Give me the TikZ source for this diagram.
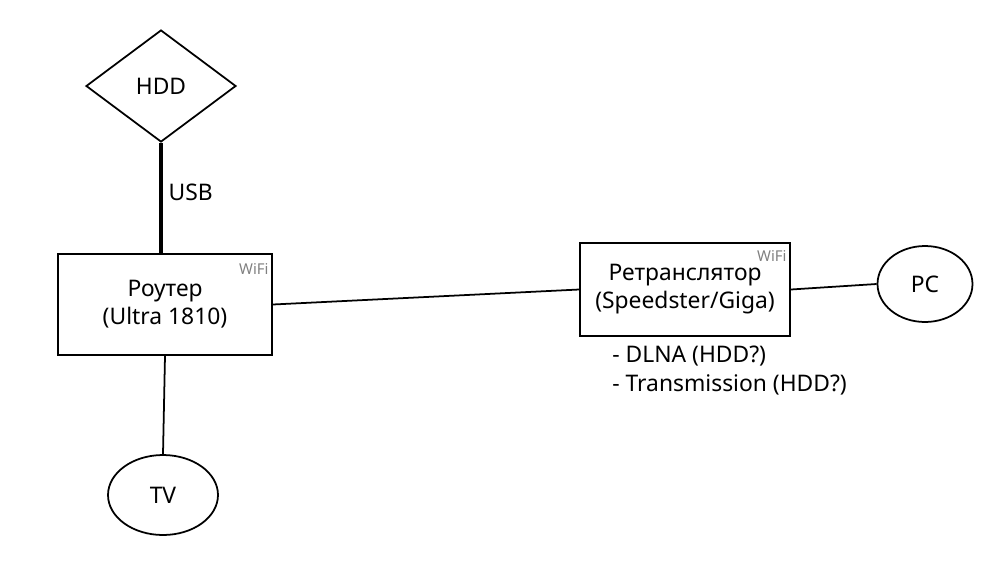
\documentclass[tikz,border=0pt]{standalone}
\usepackage{fontspec}
\setmainfont{Noto Sans}
\usetikzlibrary{shapes.geometric}
\tikzset{
  x=0.02cm, y=-0.02cm,
  box/.style={draw, line width=1pt, minimum width=4.28cm, minimum height=2.02cm, align=center, font=\fontsize{13}{16}\selectfont, inner sep=0pt},
  oval/.style={draw, line width=1pt, ellipse, inner sep=0pt, font=\fontsize{13}{15}\selectfont},
  wire/.style={line width=1pt},
  wifi/.style={text=gray, font=\fontsize{8.5}{10}\selectfont, inner sep=0pt},
  lbl/.style={font=\fontsize{13}{16}\selectfont, inner sep=0pt}
}
\begin{document}
\begin{tikzpicture}
\useasboundingbox (0,0) rectangle (1000,582);
\node[draw, line width=1pt, diamond, aspect=1.34, minimum width=3cm, minimum height=2.24cm, inner sep=0pt, font=\fontsize{13}{15}\selectfont] (hdd) at (161,86) {HDD};
\node[box] (router) at (165,304.5) {Роутер\\(Ultra 1810)};
\node[wifi, anchor=north east] (routerwifi) at ([xshift=-0.08cm, yshift=-0.2cm]router.north east) {WiFi};
\node[box, minimum width=4.2cm, minimum height=1.86cm] (rep) at (685,289.5) {Ретранслятор\\(Speedster/Giga)};
\node[wifi, anchor=north east] (repwifi) at ([xshift=-0.08cm, yshift=-0.16cm]rep.north east) {WiFi};
\node[oval, minimum width=2.2cm, minimum height=1.6cm] (tv) at (163,495) {TV};
\node[oval, minimum width=1.9cm, minimum height=1.52cm] (pc) at (925,284) {PC};
\node[lbl, anchor=north west, align=left] (notes) at (612,346) {- DLNA (HDD?)\\- Transmission (HDD?)};
\draw[line width=1.8pt] (hdd.south) -- (hdd.south |- router.north) node[pos=0.45, right=0.12cm, lbl] (usb) {USB};
\draw[wire] (router.south) -- (tv.north);
\draw[wire] (router.east) -- (rep.west);
\draw[wire] (rep.east) -- (pc.west);
\end{tikzpicture}
\end{document}
